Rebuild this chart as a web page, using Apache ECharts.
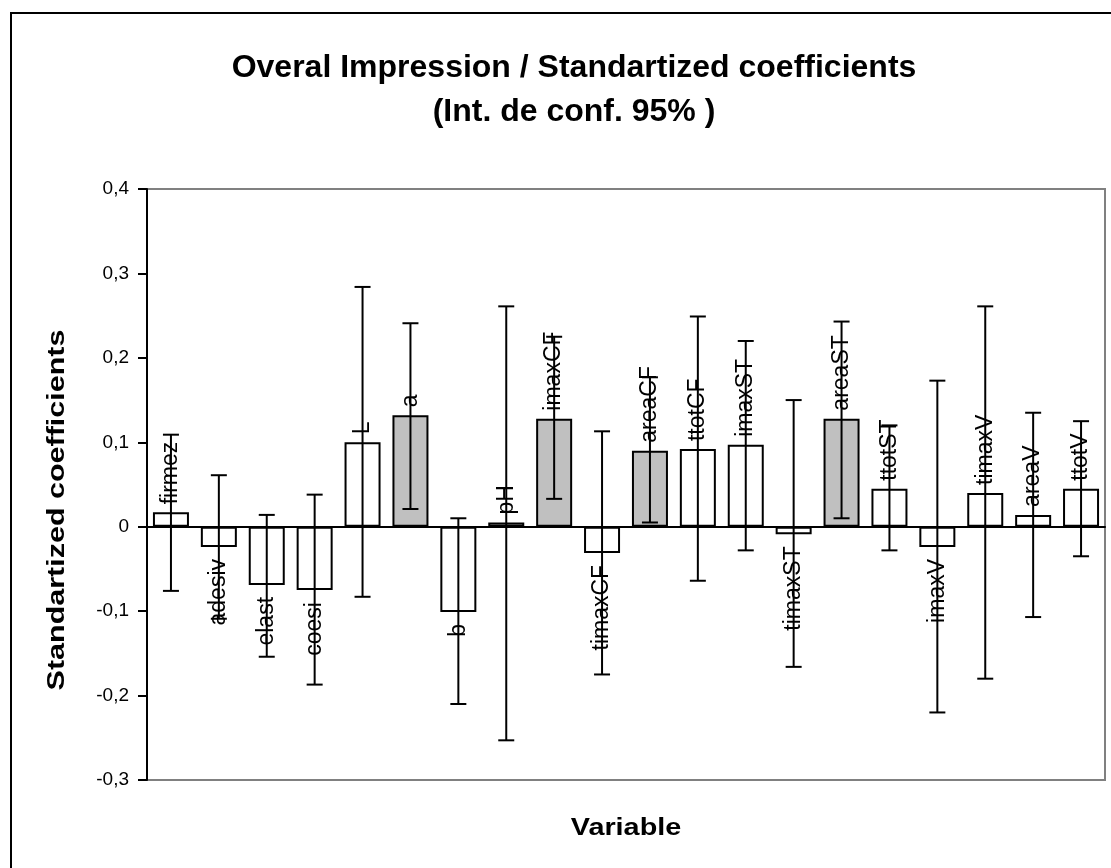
<!DOCTYPE html>
<html>
<head>
<meta charset="utf-8">
<script src="https://cdn.jsdelivr.net/npm/echarts@6/dist/echarts.min.js"></script>
<style>
  html, body { margin: 0; padding: 0; background: #fff; }
  #main { width: 1111px; height: 868px; }
</style>
</head>
<body>
<div id="main"></div>
<script>
// variables and standardized coefficients with 95% conf. limits
var categories = ['firmez', 'adesiv', 'elast', 'coesi', 'L', 'a', 'b', 'pH', 'imaxCF', 'timaxCF',
    'areaCF', 'ttotCF', 'imaxST', 'timaxST', 'areaST', 'ttotST', 'imaxV', 'timaxV', 'areaV', 'ttotV'];
var coefs = [0.017, -0.024, -0.069, -0.075, 0.100, 0.132, -0.101, 0.005, 0.128, -0.031,
    0.090, 0.092, 0.097, -0.009, 0.128, 0.045, -0.024, 0.040, 0.014, 0.045];
var lower = [-0.076, -0.109, -0.154, -0.187, -0.083, 0.021, -0.210, -0.253, 0.033, -0.175,
    0.005, -0.064, -0.028, -0.166, 0.010, -0.028, -0.220, -0.180, -0.107, -0.035];
var upper = [0.109, 0.061, 0.014, 0.038, 0.284, 0.241, 0.010, 0.261, 0.225, 0.113,
    0.177, 0.249, 0.220, 0.150, 0.243, 0.120, 0.173, 0.261, 0.135, 0.125];
var significant = [0, 0, 0, 0, 0, 1, 0, 0, 1, 0, 1, 0, 0, 0, 1, 0, 0, 0, 0, 0];
var yTicks = [-0.3, -0.2, -0.1, 0, 0.1, 0.2, 0.3, 0.4];

var FONT = "'Liberation Sans', Arial, sans-serif";

var barData = coefs.map(function (v, i) {
    return {
        value: v,
        itemStyle: {color: significant[i] ? '#c0c0c0' : '#ffffff'}
    };
});
var errData = categories.map(function (c, i) {
    return [i, lower[i], upper[i]];
});
var labelData = categories.map(function (c, i) {
    return [i, coefs[i]];
});

var myChart = echarts.init(document.getElementById('main'));
myChart.setOption({
    backgroundColor: '#fff',
    animation: false,
    title: {
        text: 'Overal Impression / Standartized coefficients\n(Int. de conf. 95% )',
        left: 569,
        textAlign: 'center',
        top: 41,
        textStyle: {
            fontFamily: FONT,
            fontWeight: 'bold',
            fontSize: 32,
            lineHeight: 44,
            color: '#000'
        }
    },
    graphic: [
        {
            type: 'polyline',
            shape: {points: [[11, 868], [11, 13], [1111, 13]]},
            style: {stroke: '#000', lineWidth: 2, fill: null}
        },
        {
            // y axis title
            type: 'text',
            x: 57,
            y: 510,
            rotation: Math.PI / 2,
            scaleX: 1.27,
            style: {
                text: 'Standartized coefficients',
                font: 'bold 24px ' + FONT,
                fill: '#000',
                align: 'center',
                verticalAlign: 'middle'
            }
        },
        {
            // x axis title
            type: 'text',
            x: 626,
            y: 828,
            scaleX: 1.2,
            style: {
                text: 'Variable',
                font: 'bold 24px ' + FONT,
                fill: '#000',
                align: 'center',
                verticalAlign: 'middle'
            }
        }
    ],
    grid: {
        left: 147,
        top: 189,
        right: 6,
        bottom: 88,
        show: true,
        borderColor: '#808080',
        borderWidth: 2
    },
    xAxis: {
        type: 'category',
        data: categories,
        axisLine: {onZero: true, lineStyle: {color: '#000', width: 2}},
        axisTick: {show: false},
        axisLabel: {show: false},
        splitLine: {show: false}
    },
    yAxis: {
        type: 'value',
        min: yTicks[0],
        max: yTicks[yTicks.length - 1],
        interval: 0.1,
        axisLine: {show: true, lineStyle: {color: '#000', width: 2}},
        axisTick: {show: true, length: 9, lineStyle: {color: '#000', width: 2}},
        axisLabel: {
            fontFamily: FONT,
            fontSize: 19,
            color: '#000',
            margin: 18,
            formatter: function (v) {
                var r = Math.round(v * 10) / 10;
                if (r === 0) return '0';
                return r.toFixed(1).replace('.', ',');
            }
        },
        splitLine: {show: false}
    },
    series: [
        {
            type: 'bar',
            data: barData,
            barWidth: 36,
            itemStyle: {borderColor: '#000', borderWidth: 2},
            z: 2
        },
        {
            type: 'custom',
            data: errData,
            z: 3,
            renderItem: function (params, api) {
                var i = api.value(0);
                var lo = api.coord([i, api.value(1)]);
                var hi = api.coord([i, api.value(2)]);
                var x = lo[0];
                var cap = 8;
                var st = {stroke: '#000', lineWidth: 2};
                return {
                    type: 'group',
                    children: [
                        {type: 'line', shape: {x1: x, y1: lo[1], x2: x, y2: hi[1]}, style: st},
                        {type: 'line', shape: {x1: x - cap, y1: lo[1], x2: x + cap, y2: lo[1]}, style: st},
                        {type: 'line', shape: {x1: x - cap, y1: hi[1], x2: x + cap, y2: hi[1]}, style: st}
                    ]
                };
            }
        },
        {
            type: 'custom',
            data: labelData,
            z: 4,
            renderItem: function (params, api) {
                var i = api.value(0);
                var v = api.value(1);
                var p = api.coord([i, v]);
                var pos = v >= 0;
                return {
                    type: 'text',
                    x: p[0],
                    y: pos ? p[1] - 8 : p[1] + 12,
                    rotation: Math.PI / 2,
                    style: {
                        text: categories[i],
                        font: '23px ' + FONT,
                        fill: '#000',
                        align: pos ? 'left' : 'right',
                        verticalAlign: 'middle'
                    }
                };
            }
        }
    ]
});
</script>
</body>
</html>
